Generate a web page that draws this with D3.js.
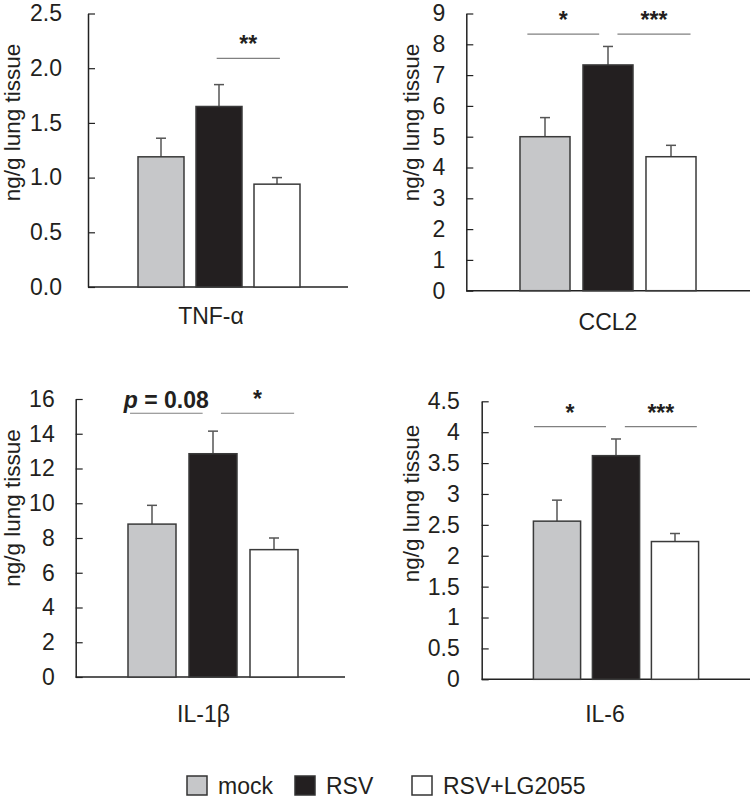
<!DOCTYPE html>
<html>
<head>
<meta charset="utf-8">
<script src="https://cdn.jsdelivr.net/npm/d3@7"></script>
<style>
  html, body { margin: 0; padding: 0; background: #fff; }
  svg { display: block; font-family: "Liberation Sans", Arial, Helvetica, sans-serif; }
</style>
</head>
<body>
<svg id="chart" width="750" height="800"></svg>
<script>
// ---------- data ----------
const groups = ["mock", "RSV", "RSV+LG2055"];
const groupColors = ["#c6c7c9", "#231f20", "#ffffff"];

const tnfMean = [1.19, 1.65, 0.94];
const tnfErr  = [0.17, 0.20, 0.06];
const tnfTicks = [0, 0.5, 1.0, 1.5, 2.0, 2.5];

const ccl2Mean = [5.0, 7.33, 4.35];
const ccl2Err  = [0.62, 0.60, 0.37];
const ccl2Ticks = [0, 1, 2, 3, 4, 5, 6, 7, 8, 9];

const il1bMean = [8.8, 12.85, 7.33];
const il1bErr  = [1.08, 1.30, 0.67];
const il1bTicks = [0, 2, 4, 6, 8, 10, 12, 14, 16];

const il6Mean = [2.56, 3.62, 2.23];
const il6Err  = [0.34, 0.27, 0.13];
const il6Ticks = [0, 0.5, 1, 1.5, 2, 2.5, 3, 3.5, 4, 4.5];

// significance brackets: [from position, to position, y value, label] (positions in category-index units)
const tnfSig  = [[0.96, 2.05, 2.09, "**"]];
const ccl2Sig = [[-0.28, 0.86, 8.33, "*"], [1.15, 2.31, 8.33, "***"]];
const il1bSig = [[-0.36, 0.83, 15.18, "p = 0.08"], [1.13, 2.33, 15.18, "*"]];
const il6Sig  = [[-0.39, 0.83, 4.09, "*"], [1.15, 2.37, 4.09, "***"]];

const categoryNames = ["TNF-α", "CCL2", "IL-1β", "IL-6"];
const yTitle = "ng/g lung tissue";

// ---------- layout ----------
const panels = [
  { name: categoryNames[0], mean: tnfMean, err: tnfErr, ticks: tnfTicks, sig: tnfSig, fmt: d3.format(".1f"),
    axisX: 88, xEnd: 348, y0: 287, yTop: 13.5, band: [132, 306], pad: 0.207, tickPad: 26,
    yLab: [20, 122.5], catLab: [211, 324] },
  { name: categoryNames[1], mean: ccl2Mean, err: ccl2Err, ticks: ccl2Ticks, sig: ccl2Sig, fmt: d => String(d),
    axisX: 466.3, xEnd: 750, y0: 290.7, yTop: 13.5, band: [513.5, 702.5], pad: 0.206, tickPad: 21,
    yLab: [419, 122.5], catLab: [608, 330] },
  { name: categoryNames[2], mean: il1bMean, err: il1bErr, ticks: il1bTicks, sig: il1bSig, fmt: d => String(d),
    axisX: 75.7, xEnd: 345, y0: 677, yTop: 399, band: [121.5, 304.5], pad: 0.213, tickPad: 21,
    yLab: [20, 508], catLab: [203.5, 722] },
  { name: categoryNames[3], mean: il6Mean, err: il6Err, ticks: il6Ticks, sig: il6Sig, fmt: d => String(d),
    axisX: 481.7, xEnd: 750, y0: 679.3, yTop: 401.3, band: [527.5, 704.5], pad: 0.2, tickPad: 22,
    yLab: [419, 503.5], catLab: [605, 722] }
];

const svg = d3.select("#chart");
const FONT = 23;
const AXIS_COLOR = "#222";

panels.forEach(p => {
  const g = svg.append("g");
  const yMax = p.ticks[p.ticks.length - 1];
  const y = d3.scaleLinear().domain([0, yMax]).range([p.y0, p.yTop]);
  const x = d3.scaleBand().domain(groups).range(p.band).paddingInner(p.pad).paddingOuter(p.pad / 2);
  const bw = x.bandwidth();
  const pos = d3.scaleLinear().domain([0, 1]).range([x(groups[0]) + bw / 2, x(groups[1]) + bw / 2]);

  // y axis
  const yAxis = d3.axisLeft(y).tickValues(p.ticks).tickFormat(p.fmt)
    .tickSizeInner(-7).tickSizeOuter(0).tickPadding(p.tickPad);
  const ag = g.append("g").attr("transform", `translate(${p.axisX},0)`).call(yAxis);
  ag.select(".domain").attr("stroke", AXIS_COLOR).attr("stroke-width", 1.5);
  ag.selectAll(".tick line").attr("stroke", AXIS_COLOR).attr("stroke-width", 1.2);
  ag.selectAll(".tick text").attr("font-size", FONT).attr("fill", "#231f20")
    .attr("font-family", "'Liberation Sans', Arial, sans-serif");

  // x axis baseline
  g.append("line").attr("x1", p.axisX).attr("x2", p.xEnd)
    .attr("y1", y(0)).attr("y2", y(0))
    .attr("stroke", AXIS_COLOR).attr("stroke-width", 1.5);

  // bars
  const data = groups.map((k, i) => ({ k, i, m: p.mean[i], e: p.err[i] }));
  const eg = g.append("g").attr("stroke", "#555").attr("stroke-width", 1.5);
  data.forEach(d => {
    const cx = x(d.k) + bw / 2;
    eg.append("line").attr("x1", cx).attr("x2", cx).attr("y1", y(d.m)).attr("y2", y(d.m + d.e));
    eg.append("line").attr("x1", cx - 5).attr("x2", cx + 5).attr("y1", y(d.m + d.e)).attr("y2", y(d.m + d.e));
  });
  g.append("g").selectAll("rect").data(data).join("rect")
    .attr("x", d => x(d.k)).attr("width", bw)
    .attr("y", d => y(d.m)).attr("height", d => y(0) - y(d.m))
    .attr("fill", d => groupColors[d.i])
    .attr("stroke", "#3a3a3a").attr("stroke-width", 1.5);

  // significance
  p.sig.forEach(s => {
    const x1 = pos(s[0]), x2 = pos(s[1]), yy = y(s[2]);
    g.append("line").attr("x1", x1).attr("x2", x2).attr("y1", yy).attr("y2", yy)
      .attr("stroke", "#808080").attr("stroke-width", 1.2);
    const t = g.append("text").attr("x", (x1 + x2) / 2).attr("text-anchor", "middle")
      .attr("fill", "#231f20").attr("font-size", FONT).attr("font-weight", "bold");
    if (s[3].startsWith("p")) {
      t.attr("y", yy - 5);
      t.append("tspan").attr("font-style", "italic").text("p");
      t.append("tspan").text(s[3].slice(1));
    } else {
      t.attr("y", yy - 6).text(s[3]);
    }
  });

  // y title
  g.append("text").attr("transform", `translate(${p.yLab[0]},${p.yLab[1]}) rotate(-90)`)
    .attr("text-anchor", "middle").attr("font-size", 22.5).attr("fill", "#231f20").text(yTitle);

  // category label
  g.append("text").attr("x", p.catLab[0]).attr("y", p.catLab[1]).attr("text-anchor", "middle")
    .attr("font-size", FONT).attr("fill", "#231f20").text(p.name);
});

// legend
const legendX = [187, 295, 412];
const lg = svg.append("g");
groups.forEach((k, i) => {
  lg.append("rect").attr("x", legendX[i]).attr("y", 776).attr("width", 20).attr("height", 19)
    .attr("fill", groupColors[i]).attr("stroke", "#333").attr("stroke-width", 1.5);
  lg.append("text").attr("x", legendX[i] + 31).attr("y", 794).attr("font-size", FONT)
    .attr("fill", "#231f20").text(k);
});
</script>
</body>
</html>
